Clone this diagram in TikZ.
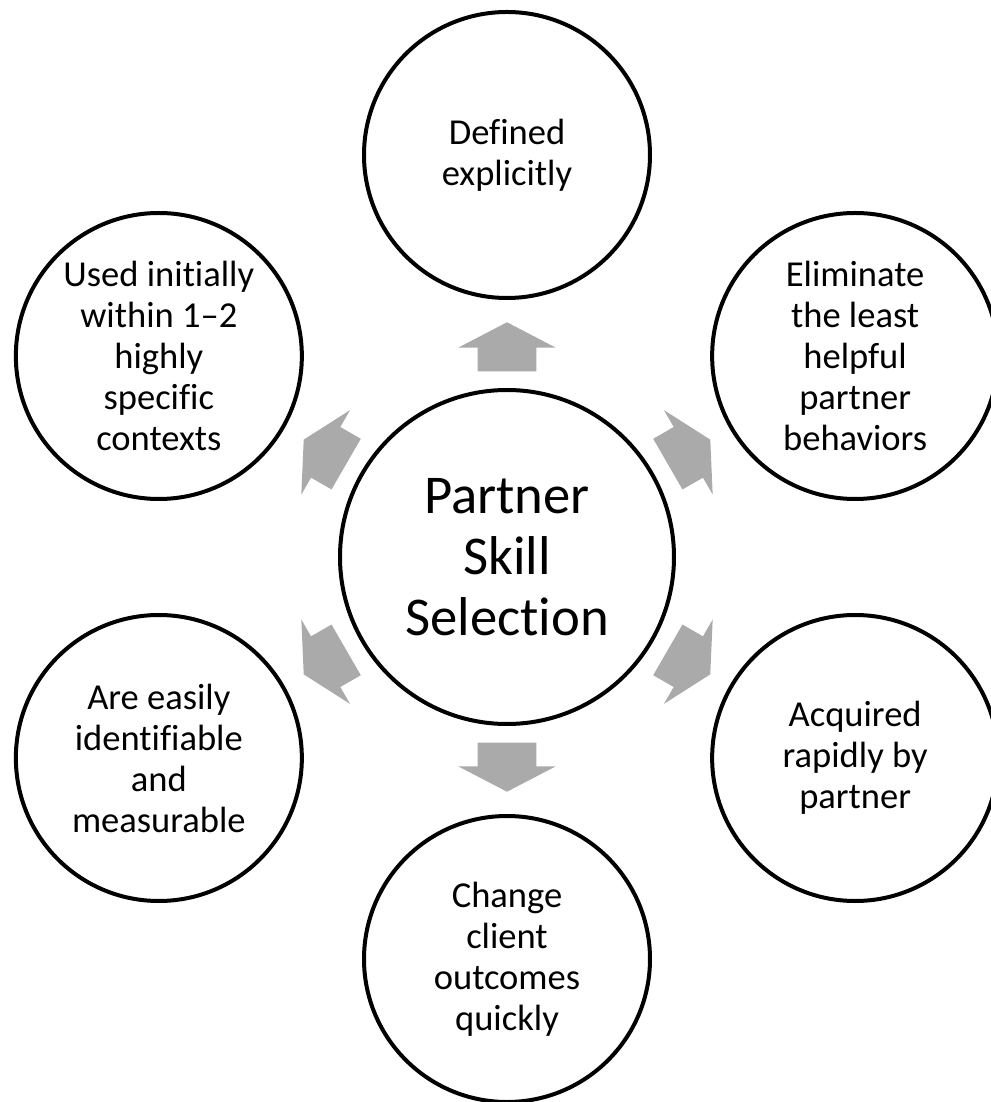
\documentclass[tikz,border=0pt]{standalone}
\usepackage{fontspec}
\setmainfont{Carlito}[Ligatures={TeX,NoCommon}]
\usetikzlibrary{shapes.arrows, calc}
\definecolor{spokegray}{RGB}{170,170,170}

\begin{document}
\begin{tikzpicture}[x=0.75pt, y=0.75pt,
      hub/.style={circle, draw, line width=3pt, minimum size=250.5pt, inner sep=0pt, align=center, font=\fontsize{41}{45.75}\selectfont},
      leaf/.style={circle, draw, line width=3pt, minimum size=214.5pt, inner sep=0pt, align=center, font=\fontsize{27.4}{30.75}\selectfont},
      spoke/.style={single arrow, draw=none, fill=spokegray, inner sep=0pt, text height=43.5pt, text depth=0pt, minimum height=36.75pt, single arrow head extend=14.6pt, single arrow tip angle=125},
    ]
    \useasboundingbox (-507,-545) rectangle (484,557);

    \node[hub] (hub) at (0,0) {Partner\\Skill\\Selection};

    \node[leaf] (defined) at (90:402) {Defined\\explicitly};
    \node[leaf] (eliminate) at (30:402) {Eliminate\\the least\\helpful\\partner\\behaviors};
    \node[leaf] (acquired) at (-30:402) {Acquired\\rapidly by\\partner};
    \node[leaf] (change) at (-90:402) {Change\\client\\outcomes\\quickly};
    \node[leaf] (measurable) at (210:402) {Are easily\\identifiable\\and\\measurable};
    \node[leaf] (contexts) at (150:402) {Used initially\\within 1--2\\highly\\specific\\contexts};

    % block arrows going out from the hub
    \node[spoke, rotate=90] (s1) at ($(hub)!0.504!(defined)$) {};
    \node[spoke, rotate=30] (s2) at ($(hub)!0.504!(eliminate)$) {};
    \node[spoke, rotate=-30] (s3) at ($(hub)!0.504!(acquired)$) {};
    \node[spoke, rotate=-90] (s4) at ($(hub)!0.504!(change)$) {};
    \node[spoke, rotate=210] (s5) at ($(hub)!0.504!(measurable)$) {};
    \node[spoke, rotate=150] (s6) at ($(hub)!0.504!(contexts)$) {};
  \end{tikzpicture}
\end{document}
